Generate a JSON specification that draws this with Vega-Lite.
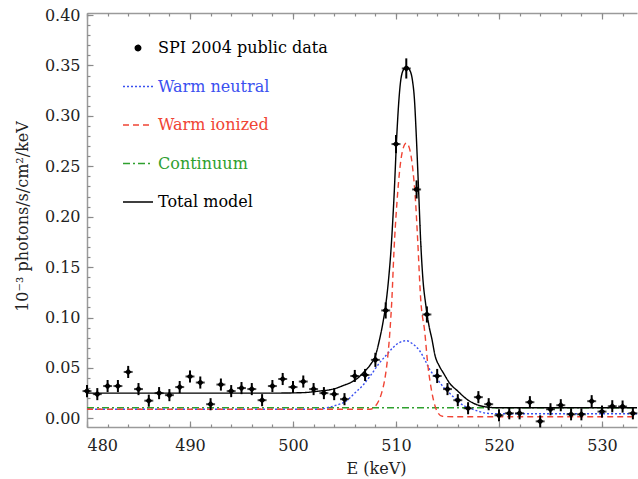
{
  "$schema": "https://vega.github.io/schema/vega-lite/v6.json",
  "width": 550,
  "height": 414,
  "autosize": {"type": "none"},
  "padding": {"left": 87, "top": 13, "right": 1, "bottom": 52},
  "background": "white",
  "config": {
    "view": {"stroke": null},
    "font": "DejaVu Serif",
    "axis": {
      "grid": false,
      "domainColor": "#9a9a9a",
      "domainWidth": 1.5,
      "tickColor": "#8a8a8a",
      "tickWidth": 1.2,
      "labelFont": "DejaVu Serif",
      "labelFontSize": 16,
      "labelColor": "#222222",
      "titleFont": "DejaVu Serif",
      "titleFontSize": 16,
      "titleFontWeight": "normal",
      "titleColor": "#222222"
    }
  },
  "datasets": {
    "model": [
      {"series": "Continuum", "E": 480, "v": 0.0105},
      {"series": "Continuum", "E": 533.4, "v": 0.0105},
      {"series": "Warm neutral", "E": 480, "v": 0.009},
      {"series": "Warm neutral", "E": 502.5, "v": 0.009},
      {"series": "Warm neutral", "E": 503.5, "v": 0.011},
      {"series": "Warm neutral", "E": 504.5, "v": 0.014},
      {"series": "Warm neutral", "E": 505, "v": 0.016},
      {"series": "Warm neutral", "E": 505.5, "v": 0.02},
      {"series": "Warm neutral", "E": 506, "v": 0.025},
      {"series": "Warm neutral", "E": 506.8, "v": 0.033},
      {"series": "Warm neutral", "E": 507.5, "v": 0.042},
      {"series": "Warm neutral", "E": 508.4, "v": 0.055},
      {"series": "Warm neutral", "E": 509, "v": 0.062},
      {"series": "Warm neutral", "E": 509.7, "v": 0.07},
      {"series": "Warm neutral", "E": 510.3, "v": 0.075},
      {"series": "Warm neutral", "E": 511, "v": 0.077},
      {"series": "Warm neutral", "E": 511.6, "v": 0.074},
      {"series": "Warm neutral", "E": 512.3, "v": 0.067},
      {"series": "Warm neutral", "E": 512.8, "v": 0.058},
      {"series": "Warm neutral", "E": 513.3, "v": 0.048},
      {"series": "Warm neutral", "E": 514, "v": 0.039},
      {"series": "Warm neutral", "E": 514.6, "v": 0.031},
      {"series": "Warm neutral", "E": 515.3, "v": 0.024},
      {"series": "Warm neutral", "E": 515.9, "v": 0.018},
      {"series": "Warm neutral", "E": 516.5, "v": 0.013},
      {"series": "Warm neutral", "E": 517.2, "v": 0.01},
      {"series": "Warm neutral", "E": 518, "v": 0.007},
      {"series": "Warm neutral", "E": 518.8, "v": 0.005},
      {"series": "Warm neutral", "E": 520, "v": 0.0045},
      {"series": "Warm neutral", "E": 533.4, "v": 0.0045},
      {"series": "Warm ionized", "E": 480, "v": 0.009},
      {"series": "Warm ionized", "E": 507.5, "v": 0.009},
      {"series": "Warm ionized", "E": 507.9, "v": 0.011},
      {"series": "Warm ionized", "E": 508.3, "v": 0.017},
      {"series": "Warm ionized", "E": 508.6, "v": 0.025},
      {"series": "Warm ionized", "E": 508.9, "v": 0.038},
      {"series": "Warm ionized", "E": 509.1, "v": 0.052},
      {"series": "Warm ionized", "E": 509.4, "v": 0.085},
      {"series": "Warm ionized", "E": 509.6, "v": 0.118},
      {"series": "Warm ionized", "E": 509.8, "v": 0.165},
      {"series": "Warm ionized", "E": 510.1, "v": 0.215},
      {"series": "Warm ionized", "E": 510.4, "v": 0.25},
      {"series": "Warm ionized", "E": 510.7, "v": 0.268},
      {"series": "Warm ionized", "E": 511, "v": 0.273},
      {"series": "Warm ionized", "E": 511.3, "v": 0.268},
      {"series": "Warm ionized", "E": 511.6, "v": 0.25},
      {"series": "Warm ionized", "E": 511.9, "v": 0.215},
      {"series": "Warm ionized", "E": 512.1, "v": 0.178},
      {"series": "Warm ionized", "E": 512.4, "v": 0.118},
      {"series": "Warm ionized", "E": 512.8, "v": 0.085},
      {"series": "Warm ionized", "E": 513.1, "v": 0.052},
      {"series": "Warm ionized", "E": 513.3, "v": 0.037},
      {"series": "Warm ionized", "E": 513.5, "v": 0.025},
      {"series": "Warm ionized", "E": 513.8, "v": 0.012},
      {"series": "Warm ionized", "E": 514.1, "v": 0.005},
      {"series": "Warm ionized", "E": 514.5, "v": 0.002},
      {"series": "Warm ionized", "E": 516, "v": 0.0015},
      {"series": "Warm ionized", "E": 533.4, "v": 0.0015},
      {"series": "Total model", "E": 480, "v": 0.025},
      {"series": "Total model", "E": 498, "v": 0.025},
      {"series": "Total model", "E": 501, "v": 0.0255},
      {"series": "Total model", "E": 502.5, "v": 0.027},
      {"series": "Total model", "E": 503.9, "v": 0.029},
      {"series": "Total model", "E": 505, "v": 0.033},
      {"series": "Total model", "E": 505.5, "v": 0.035},
      {"series": "Total model", "E": 506.3, "v": 0.04},
      {"series": "Total model", "E": 506.8, "v": 0.045},
      {"series": "Total model", "E": 507.5, "v": 0.053},
      {"series": "Total model", "E": 508, "v": 0.062},
      {"series": "Total model", "E": 508.4, "v": 0.078},
      {"series": "Total model", "E": 508.7, "v": 0.093},
      {"series": "Total model", "E": 509, "v": 0.112},
      {"series": "Total model", "E": 509.3, "v": 0.14},
      {"series": "Total model", "E": 509.5, "v": 0.165},
      {"series": "Total model", "E": 509.8, "v": 0.218},
      {"series": "Total model", "E": 510.1, "v": 0.285},
      {"series": "Total model", "E": 510.3, "v": 0.318},
      {"series": "Total model", "E": 510.5, "v": 0.338},
      {"series": "Total model", "E": 510.8, "v": 0.347},
      {"series": "Total model", "E": 511, "v": 0.349},
      {"series": "Total model", "E": 511.3, "v": 0.346},
      {"series": "Total model", "E": 511.6, "v": 0.335},
      {"series": "Total model", "E": 511.8, "v": 0.315},
      {"series": "Total model", "E": 511.95, "v": 0.285},
      {"series": "Total model", "E": 512.2, "v": 0.225},
      {"series": "Total model", "E": 512.4, "v": 0.175},
      {"series": "Total model", "E": 512.6, "v": 0.14},
      {"series": "Total model", "E": 512.9, "v": 0.112},
      {"series": "Total model", "E": 513.2, "v": 0.092},
      {"series": "Total model", "E": 513.5, "v": 0.078},
      {"series": "Total model", "E": 513.8, "v": 0.062},
      {"series": "Total model", "E": 514.2, "v": 0.052},
      {"series": "Total model", "E": 514.6, "v": 0.045},
      {"series": "Total model", "E": 515.2, "v": 0.035},
      {"series": "Total model", "E": 516, "v": 0.027},
      {"series": "Total model", "E": 517, "v": 0.018},
      {"series": "Total model", "E": 518, "v": 0.013},
      {"series": "Total model", "E": 519, "v": 0.011},
      {"series": "Total model", "E": 520, "v": 0.0105},
      {"series": "Total model", "E": 533.4, "v": 0.0105}
    ],
    "obs": [
      {"series": "SPI 2004 public data", "E": 480, "v": 0.027, "err": 0.006},
      {"series": "SPI 2004 public data", "E": 481, "v": 0.024, "err": 0.006},
      {"series": "SPI 2004 public data", "E": 482, "v": 0.032, "err": 0.006},
      {"series": "SPI 2004 public data", "E": 483, "v": 0.032, "err": 0.006},
      {"series": "SPI 2004 public data", "E": 484, "v": 0.046, "err": 0.006},
      {"series": "SPI 2004 public data", "E": 485, "v": 0.029, "err": 0.006},
      {"series": "SPI 2004 public data", "E": 486, "v": 0.0175, "err": 0.006},
      {"series": "SPI 2004 public data", "E": 487, "v": 0.025, "err": 0.006},
      {"series": "SPI 2004 public data", "E": 488, "v": 0.023, "err": 0.006},
      {"series": "SPI 2004 public data", "E": 489, "v": 0.031, "err": 0.006},
      {"series": "SPI 2004 public data", "E": 490, "v": 0.0415, "err": 0.006},
      {"series": "SPI 2004 public data", "E": 491, "v": 0.0355, "err": 0.006},
      {"series": "SPI 2004 public data", "E": 492, "v": 0.014, "err": 0.006},
      {"series": "SPI 2004 public data", "E": 493, "v": 0.0335, "err": 0.006},
      {"series": "SPI 2004 public data", "E": 494, "v": 0.027, "err": 0.006},
      {"series": "SPI 2004 public data", "E": 495, "v": 0.03, "err": 0.006},
      {"series": "SPI 2004 public data", "E": 496, "v": 0.029, "err": 0.006},
      {"series": "SPI 2004 public data", "E": 497, "v": 0.018, "err": 0.006},
      {"series": "SPI 2004 public data", "E": 498, "v": 0.032, "err": 0.006},
      {"series": "SPI 2004 public data", "E": 499, "v": 0.039, "err": 0.006},
      {"series": "SPI 2004 public data", "E": 500, "v": 0.031, "err": 0.006},
      {"series": "SPI 2004 public data", "E": 501, "v": 0.0365, "err": 0.006},
      {"series": "SPI 2004 public data", "E": 502, "v": 0.029, "err": 0.006},
      {"series": "SPI 2004 public data", "E": 503, "v": 0.025, "err": 0.006},
      {"series": "SPI 2004 public data", "E": 504, "v": 0.024, "err": 0.006},
      {"series": "SPI 2004 public data", "E": 505, "v": 0.019, "err": 0.006},
      {"series": "SPI 2004 public data", "E": 506, "v": 0.042, "err": 0.006},
      {"series": "SPI 2004 public data", "E": 507, "v": 0.043, "err": 0.006},
      {"series": "SPI 2004 public data", "E": 508, "v": 0.058, "err": 0.007},
      {"series": "SPI 2004 public data", "E": 509, "v": 0.107, "err": 0.008},
      {"series": "SPI 2004 public data", "E": 510, "v": 0.272, "err": 0.009},
      {"series": "SPI 2004 public data", "E": 511, "v": 0.347, "err": 0.01},
      {"series": "SPI 2004 public data", "E": 512, "v": 0.227, "err": 0.009},
      {"series": "SPI 2004 public data", "E": 513, "v": 0.103, "err": 0.008},
      {"series": "SPI 2004 public data", "E": 514, "v": 0.042, "err": 0.007},
      {"series": "SPI 2004 public data", "E": 515, "v": 0.029, "err": 0.006},
      {"series": "SPI 2004 public data", "E": 516, "v": 0.018, "err": 0.006},
      {"series": "SPI 2004 public data", "E": 517, "v": 0.01, "err": 0.006},
      {"series": "SPI 2004 public data", "E": 518, "v": 0.021, "err": 0.006},
      {"series": "SPI 2004 public data", "E": 519, "v": 0.014, "err": 0.006},
      {"series": "SPI 2004 public data", "E": 520, "v": 0.003, "err": 0.006},
      {"series": "SPI 2004 public data", "E": 521, "v": 0.005, "err": 0.006},
      {"series": "SPI 2004 public data", "E": 522, "v": 0.005, "err": 0.006},
      {"series": "SPI 2004 public data", "E": 523, "v": 0.016, "err": 0.006},
      {"series": "SPI 2004 public data", "E": 524, "v": -0.003, "err": 0.006},
      {"series": "SPI 2004 public data", "E": 525, "v": 0.009, "err": 0.006},
      {"series": "SPI 2004 public data", "E": 526, "v": 0.013, "err": 0.006},
      {"series": "SPI 2004 public data", "E": 527, "v": 0.004, "err": 0.006},
      {"series": "SPI 2004 public data", "E": 528, "v": 0.004, "err": 0.006},
      {"series": "SPI 2004 public data", "E": 529, "v": 0.017, "err": 0.006},
      {"series": "SPI 2004 public data", "E": 530, "v": 0.0067, "err": 0.006},
      {"series": "SPI 2004 public data", "E": 531, "v": 0.012, "err": 0.006},
      {"series": "SPI 2004 public data", "E": 532, "v": 0.0117, "err": 0.006},
      {"series": "SPI 2004 public data", "E": 533, "v": 0.005, "err": 0.006}
    ]
  },
  "resolve": {"axis": {"x": "independent", "y": "independent"}},
  "layer": [
    {
      "data": {"name": "model"},
      "mark": {"type": "line", "interpolate": "monotone", "strokeWidth": 1.4},
      "encoding": {
        "x": {
          "field": "E", "type": "quantitative",
          "scale": {"domain": [480, 533.4], "nice": false, "zero": false},
          "axis": {
            "orient": "bottom",
            "values": [480, 490, 500, 510, 520, 530],
            "tickSize": -6,
            "labelPadding": 16,
            "title": "E (keV)",
            "titleX": 289,
            "titleY": 41,
            "titleBaseline": "middle"
          }
        },
        "y": {
          "field": "v", "type": "quantitative",
          "scale": {"domain": [-0.0086, 0.402], "nice": false, "zero": false},
          "axis": {
            "orient": "left",
            "values": [0, 0.05, 0.1, 0.15, 0.2, 0.25, 0.3, 0.35, 0.4],
            "format": ".2f",
            "tickSize": -6,
            "labelPadding": 13,
            "title": "10⁻³ photons/s/cm²/keV",
            "titleX": -65,
            "titleY": 203,
            "titleBaseline": "middle"
          }
        },
        "color": {
          "field": "series", "type": "nominal",
          "scale": {
            "domain": ["SPI 2004 public data", "Warm neutral", "Warm ionized", "Continuum", "Total model"],
            "range": ["#000000", "#3a50f0", "#f04434", "#2ea02e", "#000000"]
          },
          "legend": {
            "orient": "none",
            "legendX": 35,
            "legendY": 19,
            "title": null,
            "padding": 0,
            "symbolSize": 900,
            "symbolType": "stroke",
            "symbolStrokeWidth": 1.4,
            "rowPadding": 14.5,
            "labelOffset": 4,
            "labelFont": "DejaVu Serif",
            "labelFontSize": 16,
            "labelLimit": 400,
            "encode": {
              "labels": {"update": {"fill": {"scale": "color", "field": "value"}}},
              "symbols": {
                "update": {
                  "shape": {"signal": "datum.value === 'SPI 2004 public data' ? 'circle' : 'stroke'"},
                  "size": {"signal": "datum.value === 'SPI 2004 public data' ? 30 : 900"},
                  "fill": {"signal": "datum.value === 'SPI 2004 public data' ? '#000000' : 'transparent'"},
                  "stroke": {"scale": "color", "field": "value"},
                  "strokeDash": {"scale": "strokeDash", "field": "value"},
                  "strokeWidth": {"value": 1.4}
                }
              }
            }
          }
        },
        "strokeDash": {
          "field": "series", "type": "nominal",
          "scale": {
            "domain": ["SPI 2004 public data", "Warm neutral", "Warm ionized", "Continuum", "Total model"],
            "range": [[1, 0], [2, 2], [6, 4], [7, 3, 2, 3], [1, 0]]
          },
          "legend": null
        }
      }
    },
    {
      "data": {"name": "obs"},
      "mark": {"type": "errorbar", "thickness": 2, "color": "#000000"},
      "encoding": {
        "x": {
          "field": "E", "type": "quantitative",
          "scale": {"domain": [480, 533.4], "nice": false, "zero": false},
          "axis": {
            "orient": "top",
            "values": [480, 490, 500, 510, 520, 530],
            "tickSize": -6,
            "labels": false,
            "title": null
          }
        },
        "y": {
          "field": "v", "type": "quantitative",
          "scale": {"domain": [-0.0086, 0.402], "nice": false, "zero": false},
          "axis": {
            "orient": "left",
            "values": [0, 0.01, 0.02, 0.03, 0.04, 0.05, 0.06, 0.07, 0.08, 0.09, 0.1, 0.11, 0.12, 0.13, 0.14, 0.15, 0.16, 0.17, 0.18, 0.19, 0.2, 0.21, 0.22, 0.23, 0.24, 0.25, 0.26, 0.27, 0.28, 0.29, 0.3, 0.31, 0.32, 0.33, 0.34, 0.35, 0.36, 0.37, 0.38, 0.39, 0.4],
            "tickSize": -3,
            "labels": false,
            "domain": false,
            "title": null
          }
        },
        "yError": {"field": "err"}
      }
    },
    {
      "data": {"name": "obs"},
      "mark": {"type": "tick", "orient": "horizontal", "size": 9, "thickness": 2, "color": "#000000"},
      "encoding": {
        "x": {
          "field": "E", "type": "quantitative",
          "scale": {"domain": [480, 533.4], "nice": false, "zero": false},
          "axis": {
            "orient": "bottom",
            "values": [480, 482, 484, 486, 488, 490, 492, 494, 496, 498, 500, 502, 504, 506, 508, 510, 512, 514, 516, 518, 520, 522, 524, 526, 528, 530, 532],
            "tickSize": -3,
            "labels": false,
            "domain": false,
            "title": null
          }
        },
        "y": {
          "field": "v", "type": "quantitative",
          "scale": {"domain": [-0.0086, 0.402], "nice": false, "zero": false},
          "axis": null
        }
      }
    },
    {
      "data": {"name": "obs"},
      "mark": {"type": "point", "shape": "diamond", "filled": true, "size": 45, "opacity": 1},
      "encoding": {
        "x": {
          "field": "E", "type": "quantitative",
          "scale": {"domain": [480, 533.4], "nice": false, "zero": false},
          "axis": {
            "orient": "top",
            "values": [480, 482, 484, 486, 488, 490, 492, 494, 496, 498, 500, 502, 504, 506, 508, 510, 512, 514, 516, 518, 520, 522, 524, 526, 528, 530, 532],
            "tickSize": -3,
            "labels": false,
            "domain": false,
            "title": null
          }
        },
        "y": {
          "field": "v", "type": "quantitative",
          "scale": {"domain": [-0.0086, 0.402], "nice": false, "zero": false},
          "axis": null
        },
        "color": {"field": "series", "type": "nominal"}
      }
    }
  ]
}
